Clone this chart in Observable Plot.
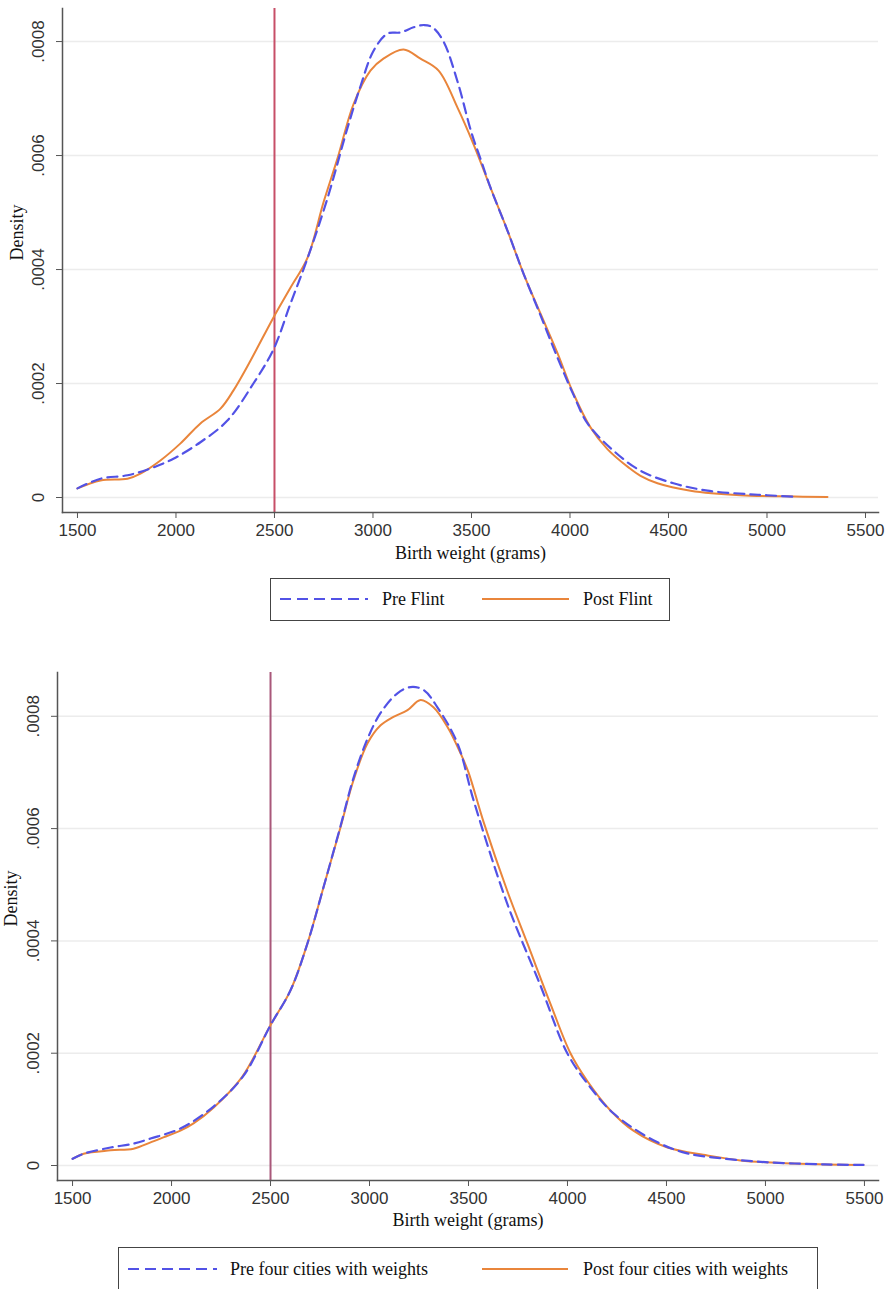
<!DOCTYPE html>
<html><head><meta charset="utf-8">
<script src="https://cdn.jsdelivr.net/npm/d3@7"></script>
<script src="https://cdn.jsdelivr.net/npm/@observablehq/plot@0.6"></script>
<style>
html,body{margin:0;padding:0;background:#fff;overflow:hidden}
#root{position:relative;width:890px;height:1289px;overflow:hidden}
.chart{position:absolute;left:0}
.legend{position:absolute;border:1.5px solid #444;box-sizing:border-box;background:#fff}
.lg-text{position:absolute;font-family:"Liberation Serif","Times New Roman",serif;font-size:18px;color:#111;line-height:20px;white-space:nowrap}
.lg-swatch{position:absolute;overflow:visible}
</style></head><body><div id="root"></div>
<script>
// ---- data ----
const xTicks = [1500, 2000, 2500, 3000, 3500, 4000, 4500, 5000, 5500];
const yTickValues = [0, 0.0002, 0.0004, 0.0006, 0.0008];
const yTickLabels = ["0", ".0002", ".0004", ".0006", ".0008"];
const cutoff = 2500;
const xTitle = "Birth weight (grams)";
const yTitle = "Density";
const seriesTop = ["Pre Flint", "Post Flint"];
const seriesBottom = ["Pre four cities with weights", "Post four cities with weights"];

const topPreWeight = [1500,1617,1754,1871,1987,2124,2261,2393,2495,2581,2668,2769,2871,2937,3003,3074,3140,3206,3260,3302,3358,3429,3500,3550,3596,3683,3764,3850,3937,4018,4089,4221,4358,4525,4698,4900,5000,5155];
const topPreDensity = [0.000016,0.000033,0.000039,0.000051,0.000068,0.000097,0.000135,0.000200,0.000260,0.000340,0.000420,0.000525,0.000649,0.000722,0.000784,0.000814,0.000816,0.000825,0.000829,0.000825,0.000800,0.000730,0.000640,0.000590,0.000544,0.000468,0.000393,0.000320,0.000245,0.000180,0.000130,0.000082,0.000047,0.000025,0.000012,0.000006,0.000004,0.000001];

const topPostWeight = [1500,1617,1754,1820,1921,2023,2124,2226,2292,2378,2495,2581,2668,2749,2820,2901,2987,3053,3155,3241,3333,3429,3510,3596,3683,3764,3850,3937,4018,4104,4190,4300,4358,4444,4612,4865,5100,5307];
const topPostDensity = [0.000016,0.000030,0.000033,0.000042,0.000065,0.000095,0.000130,0.000156,0.000188,0.000240,0.000316,0.000368,0.000421,0.000518,0.000595,0.000690,0.000749,0.000770,0.000786,0.000770,0.000749,0.000684,0.000620,0.000544,0.000468,0.000393,0.000323,0.000253,0.000182,0.000123,0.000085,0.000052,0.000038,0.000025,0.000012,0.000004,0.000002,0.000001];

const botPreWeight = [1500,1556,1692,1808,1894,2045,2212,2364,2500,2601,2687,2768,2854,2919,2990,3056,3141,3207,3273,3343,3444,3526,3697,3864,3999,4116,4232,4434,4600,4800,5000,5300,5495];
const botPreDensity = [0.000012,0.000021,0.000032,0.000039,0.000048,0.000066,0.000105,0.000160,0.000250,0.000312,0.000396,0.000496,0.000605,0.000690,0.000760,0.000806,0.000841,0.000852,0.000847,0.000816,0.000752,0.000650,0.000465,0.000320,0.000200,0.000139,0.000093,0.000045,0.000022,0.000012,0.000006,0.000002,0.000001];

const botPostWeight = [1500,1556,1692,1808,1900,1980,2045,2111,2212,2355,2500,2601,2687,2768,2854,2919,2990,3056,3121,3192,3258,3323,3394,3460,3500,3576,3697,3798,3914,4015,4101,4217,4333,4505,4707,4874,5100,5300,5495];
const botPostDensity = [0.000012,0.000021,0.000027,0.000030,0.000042,0.000053,0.000062,0.000075,0.000103,0.000157,0.000250,0.000312,0.000396,0.000496,0.000603,0.000686,0.000752,0.000784,0.000799,0.000811,0.000829,0.000816,0.000781,0.000734,0.000700,0.000612,0.000488,0.000395,0.000288,0.000200,0.000150,0.000098,0.000062,0.000032,0.000018,0.000009,0.000004,0.000002,0.000001];

// ---- styles ----
const BLUE = "#5252e6";
const ORANGE = "#e9853b";
const SERIF = "Liberation Serif, Times New Roman, serif";
const SANS = "Liberation Sans, Arial, Helvetica, sans-serif";

function toRows(ws, ds) { return ws.map((w, i) => ({w, d: ds[i]})); }

function makeChart(o) {
  return Plot.plot({
    width: 890, height: o.height,
    marginLeft: o.marginLeft, marginRight: 12, marginTop: o.marginTop, marginBottom: o.marginBottom,
    x: {domain: o.xDomain},
    y: {domain: o.yDomain},
    style: {background: "transparent", fontFamily: SANS, overflow: "visible"},
    marks: [
      Plot.ruleY(yTickValues, {stroke: "#ececec", strokeWidth: 1.5, inset: 0}),
      Plot.ruleX([cutoff], {stroke: o.refColor, strokeWidth: 2}),
      Plot.line(o.post, {x: "w", y: "d", stroke: ORANGE, strokeWidth: 2, curve: "catmull-rom"}),
      Plot.line(o.pre, {x: "w", y: "d", stroke: BLUE, strokeWidth: 2.2, strokeDasharray: "10,6", curve: "catmull-rom"}),
      Plot.frame({anchor: "left", stroke: "#555", strokeWidth: 1.5}),
      Plot.frame({anchor: "bottom", stroke: "#555", strokeWidth: 1.5}),
      Plot.axisX({ticks: xTicks, tickSize: 6, tickPadding: 5, tickFormat: d => String(d), fontSize: 17, stroke: "#555", fill: "#333", label: null}),
      Plot.axisY({ticks: yTickValues, tickSize: 6, tickFormat: () => "", stroke: "#555", label: null}),
      Plot.text(yTickValues, {y: d => d, frameAnchor: "left", dx: -24, rotate: -90, text: (d, i) => yTickLabels[i], fontSize: 17, textAnchor: "middle", lineAnchor: "middle", fill: "#333"}),
      Plot.text([xTitle], {text: d => d, frameAnchor: "bottom", dy: o.xTitleDy, fontFamily: SERIF, fontSize: 18, fill: "#111"}),
      Plot.text([yTitle], {text: d => d, frameAnchor: "left", dx: o.yTitleDx, rotate: -90, fontFamily: SERIF, fontSize: 18, fill: "#111"})
    ]
  });
}

const root = document.getElementById("root");

const top1 = makeChart({
  height: 570, marginLeft: 62, marginTop: 8, marginBottom: 58,
  xDomain: [1424, 5566], yDomain: [-0.0000263, 0.000858],
  refColor: "#c74f68",
  pre: toRows(topPreWeight, topPreDensity), post: toRows(topPostWeight, topPostDensity),
  xTitleDy: 46, yTitleDx: -45
});
top1.classList.add("chart"); top1.style.top = "0px";
root.appendChild(top1);

const bot1 = makeChart({
  height: 590, marginLeft: 57, marginTop: 32, marginBottom: 50,
  xDomain: [1424, 5571], yDomain: [-0.0000267, 0.000878],
  refColor: "#a9587a",
  pre: toRows(botPreWeight, botPreDensity), post: toRows(botPostWeight, botPostDensity),
  xTitleDy: 45, yTitleDx: -46
});
bot1.classList.add("chart"); bot1.style.top = "640px";
root.appendChild(bot1);

// ---- legends ----
function addLegend(box, cy, items) {
  const b = document.createElement("div");
  b.className = "legend";
  Object.assign(b.style, {left: box[0] + "px", top: box[1] + "px", width: box[2] + "px", height: box[3] + "px"});
  root.appendChild(b);
  items.forEach(it => {
    const ns = "http://www.w3.org/2000/svg";
    const s = document.createElementNS(ns, "svg");
    s.setAttribute("class", "lg-swatch");
    s.setAttribute("width", it.x2 - it.x1);
    s.setAttribute("height", 6);
    s.style.left = it.x1 + "px"; s.style.top = (cy - 3) + "px";
    const l = document.createElementNS(ns, "line");
    l.setAttribute("x1", 0); l.setAttribute("x2", it.x2 - it.x1);
    l.setAttribute("y1", 3); l.setAttribute("y2", 3);
    l.setAttribute("stroke", it.color); l.setAttribute("stroke-width", 2.2);
    if (it.dash) l.setAttribute("stroke-dasharray", it.dash);
    s.appendChild(l);
    root.appendChild(s);
    const t = document.createElement("div");
    t.className = "lg-text";
    t.textContent = it.label;
    t.style.left = it.tx + "px"; t.style.top = (cy - 10) + "px";
    root.appendChild(t);
  });
}
addLegend([270, 578, 400, 43], 599, [
  {x1: 280, x2: 368, color: BLUE, dash: "11,6", label: seriesTop[0], tx: 382},
  {x1: 482, x2: 569, color: ORANGE, label: seriesTop[1], tx: 583}
]);
addLegend([118, 1247, 700, 60], 1269, [
  {x1: 128, x2: 217, color: BLUE, dash: "11,6", label: seriesBottom[0], tx: 230},
  {x1: 482, x2: 568, color: ORANGE, label: seriesBottom[1], tx: 583}
]);
</script></body></html>
